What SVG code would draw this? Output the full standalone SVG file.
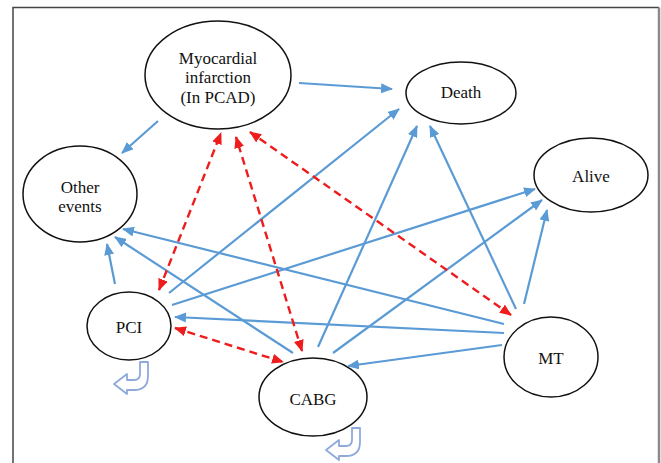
<svg xmlns="http://www.w3.org/2000/svg" width="661" height="463" viewBox="0 0 661 463">
<style>
.node ellipse{fill:#fff;stroke:#111;stroke-width:1.5}
.node text{font-family:"Liberation Serif","Times New Roman",serif;font-size:17px;fill:#111;text-anchor:middle}
.blue{stroke:#5b9bd5;stroke-width:2.2;fill:none;marker-end:url(#ab)}
.red{stroke:#ee1c1c;stroke-width:2.4;fill:none;stroke-dasharray:8 5;marker-start:url(#ar);marker-end:url(#ar)}
.hook{fill:#fff;stroke:#8eaadb;stroke-width:1.8;stroke-linejoin:round}
</style>
<defs>
<marker id="ab" markerUnits="userSpaceOnUse" markerWidth="12" markerHeight="10" viewBox="0 0 12 10" refX="11" refY="5" orient="auto"><path d="M0,0 L12,5 L0,10 z" fill="#5b9bd5"/></marker>
<marker id="ar" markerUnits="userSpaceOnUse" markerWidth="12" markerHeight="10" viewBox="0 0 12 10" refX="11" refY="5" orient="auto-start-reverse"><path d="M0,0 L12,5 L0,10 z" fill="#ee1c1c"/></marker>
<path id="hk" d="M140,362 H148 V376 Q148,390 134,390 H127 V394 L114,384 L127,374 V380 H134 Q140,380 140,374 Z"/>
</defs>
<rect width="661" height="463" fill="#fff"/>
<g id="frame">
<path d="M13,463 V7.5 H659" fill="none" stroke="#444" stroke-width="1.5"/>
<path d="M659,7.5 V463" fill="none" stroke="#8a8a8a" stroke-width="2.5"/>
</g>
<g id="n-mi" class="node"><ellipse cx="218" cy="75" rx="73" ry="54"/><text x="218" y="64">Myocardial</text><text x="218" y="83">infarction</text><text x="218" y="103">(In PCAD)</text></g>
<g id="n-death" class="node"><ellipse cx="461" cy="93" rx="55" ry="31"/><text x="461" y="98">Death</text></g>
<g id="n-alive" class="node"><ellipse cx="591" cy="175" rx="57" ry="37"/><text x="591" y="182">Alive</text></g>
<g id="n-other" class="node"><ellipse cx="80" cy="194" rx="57" ry="48"/><text x="80" y="193">Other</text><text x="80" y="212">events</text></g>
<g id="n-pci" class="node"><ellipse cx="129" cy="326" rx="42" ry="34"/><text x="129" y="333">PCI</text></g>
<g id="n-cabg" class="node"><ellipse cx="313" cy="397" rx="54" ry="39"/><text x="313" y="405">CABG</text></g>
<g id="n-mt" class="node"><ellipse cx="551" cy="357" rx="47" ry="40"/><text x="551" y="364">MT</text></g>
<g id="connectors">
<path class="blue" d="M299,83 L392,89"/>
<path class="blue" d="M158,121 L122,153"/>
<path class="blue" d="M115,284 L107,244"/>
<path class="blue" d="M293,353 L115,237"/>
<path class="blue" d="M504,324 L123,229"/>
<path class="blue" d="M169,293 L399,109"/>
<path class="blue" d="M172,305 L535,189"/>
<path class="blue" d="M318,347 L417,126"/>
<path class="blue" d="M333,353 L542,200"/>
<path class="blue" d="M516,309 L430,126"/>
<path class="blue" d="M524,304 L547,210"/>
<path class="blue" d="M504,333 L175,317"/>
<path class="blue" d="M502,345 L348,366"/>
<path class="red" d="M159,290 L221,133"/>
<path class="red" d="M302,351 L236,137"/>
<path class="red" d="M511,315 L250,132"/>
<path class="red" d="M175,328 L283,362"/>
<use href="#hk" class="hook"/>
<use href="#hk" class="hook" transform="translate(212,66)"/>
</g>
</svg>
